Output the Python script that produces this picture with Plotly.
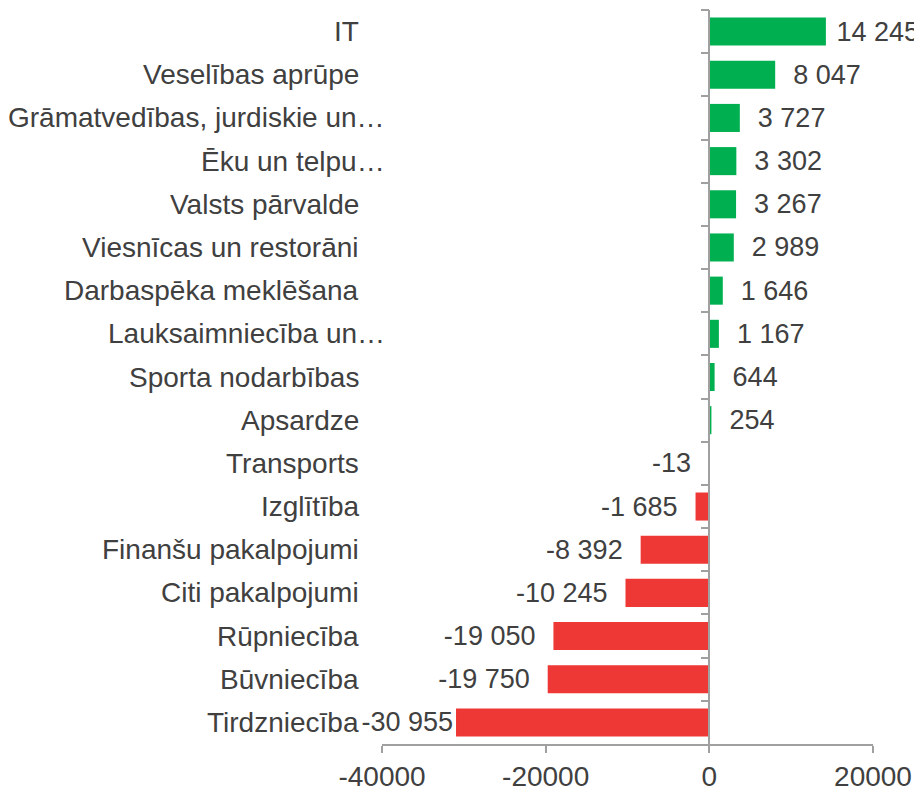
import plotly.graph_objects as go

categories = [
    "IT",
    "Veselības aprūpe",
    "Grāmatvedības, jurdiskie un…",
    "Ēku un telpu…",
    "Valsts pārvalde",
    "Viesnīcas un restorāni",
    "Darbaspēka meklēšana",
    "Lauksaimniecība un…",
    "Sporta nodarbības",
    "Apsardze",
    "Transports",
    "Izglītība",
    "Finanšu pakalpojumi",
    "Citi pakalpojumi",
    "Rūpniecība",
    "Būvniecība",
    "Tirdzniecība",
]
values = [14245, 8047, 3727, 3302, 3267, 2989, 1646, 1167, 644, 254,
          -13, -1685, -8392, -10245, -19050, -19750, -30955]
x_tickvals = [-40000, -20000, 0, 20000]
x_ticktext = [str(v) for v in x_tickvals]

GREEN = "#00B050"
RED = "#EE3836"
TEXT = "#404040"
AXIS = "#A0A0A0"
FONT = "Liberation Sans, Arial, sans-serif"
FS = 28
FS_DATA = 27
NB = "\u00a0"


def label(v):
    s = f"{v:,}".replace(",", " ")
    # labels that would run past the chart edges are pulled in towards the bar
    if v >= 0:
        return NB * (1 if v > 12000 else 2) + s
    return s + ("" if v < -25000 else NB * 2)


colors = [GREEN if v >= 0 else RED for v in values]

fig = go.Figure(
    go.Bar(
        x=values,
        y=categories,
        orientation="h",
        marker=dict(color=colors, line=dict(width=0)),
        text=[label(v) for v in values],
        textposition="outside",
        textfont=dict(family=FONT, size=FS_DATA, color=TEXT),
        cliponaxis=False,
        constraintext="none",
        hoverinfo="x+y",
    )
)

for c in categories:
    fig.add_annotation(
        x=0, xref="paper", y=c, yref="y",
        text=c, showarrow=False,
        xanchor="right", yanchor="middle",
        xshift=5 if c.endswith("…") else -21,
        font=dict(family=FONT, size=FS, color=TEXT),
    )

fig.update_layout(
    width=914, height=789,
    margin=dict(l=382, r=41, t=10, b=45, autoexpand=False),
    paper_bgcolor="white", plot_bgcolor="white",
    bargap=0.35,
    showlegend=False,
    xaxis=dict(
        range=[-40000, 20000],
        tickvals=x_tickvals, ticktext=x_ticktext,
        ticks="outside", ticklen=7, tickwidth=1.5, tickcolor=AXIS,
        showline=True, linecolor=AXIS, linewidth=1.5,
        showgrid=False, zeroline=False, automargin=False,
        tickfont=dict(family=FONT, size=FS, color=TEXT),
    ),
    yaxis=dict(
        categoryorder="array", categoryarray=categories,
        autorange="reversed",
        anchor="free", position=40000 / 60000,
        showline=True, linecolor=AXIS, linewidth=1.5,
        ticks="outside", tickson="boundaries", ticklen=8, tickwidth=1.5, tickcolor=AXIS,
        showticklabels=False, showgrid=False, zeroline=False, automargin=False,
    ),
)

fig.write_html(
    "out.html",
    config={"displayModeBar": False},
    post_script="document.body.style.margin='0';document.body.style.overflow='hidden';",
)
